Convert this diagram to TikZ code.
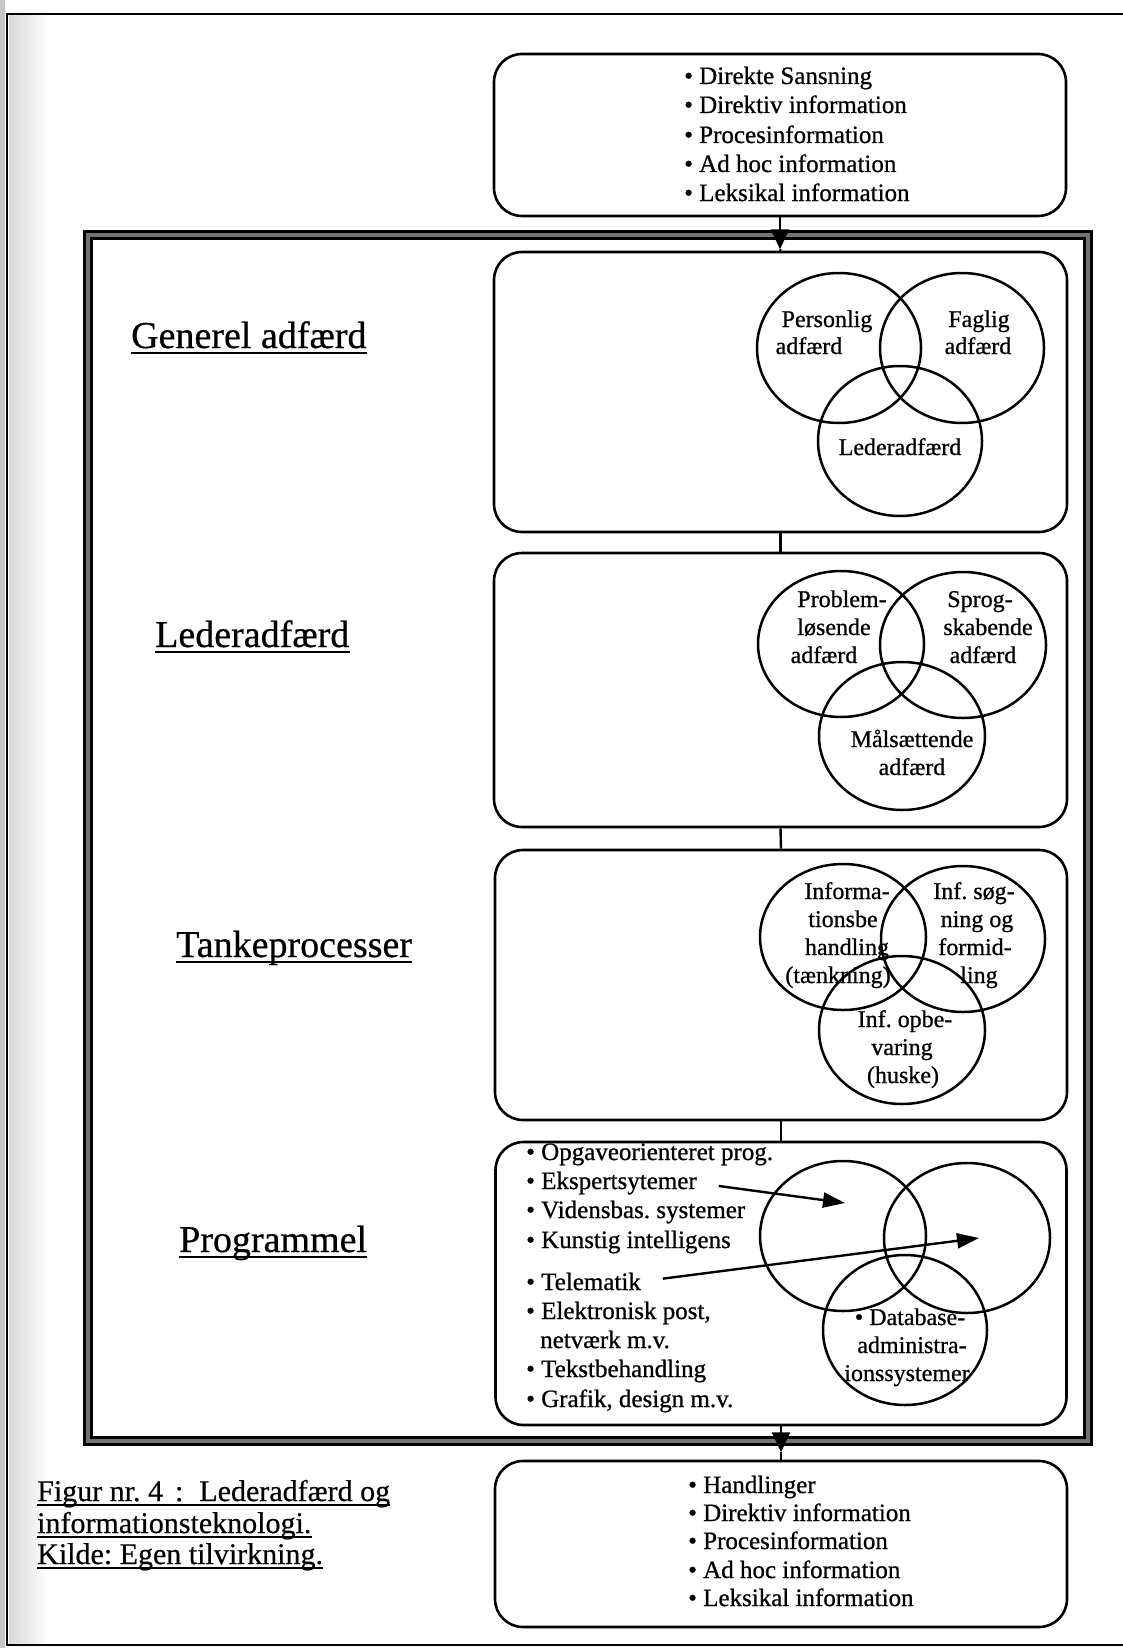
\documentclass[tikz,border=0pt]{standalone}
\usepackage{fontspec}
\setmainfont{Liberation Serif}
\usetikzlibrary{arrows.meta}
\begin{document}
\frenchspacing
\begin{tikzpicture}[x=1pt,y=-1pt,
  box/.style={draw, line width=2.6pt, rounded corners=28pt, inner sep=0pt},
  ring/.style={draw, line width=2.5pt},
  frame/.style={draw=black, line width=2.8pt, double=black!55, double distance=3.5pt},
  link/.style={line width=2.4pt},
  flowarr/.style={line width=2.4pt, -{Triangle[length=20pt,width=18pt]}},
  ptr/.style={line width=2.4pt, -{Triangle[length=22pt,width=15pt]}},
  head/.style={font=\fontsize{38}{40}\selectfont\addfontfeature{FakeBold=0.6}, inner sep=0pt, anchor=base west},
  item/.style={font=\fontsize{25}{29}\selectfont\addfontfeature{FakeBold=0.8}, inner sep=0pt, anchor=base west},
  vtxt/.style={font=\fontsize{24}{28}\selectfont\addfontfeature{FakeBold=0.8}, inner sep=0pt, anchor=base},
  captxt/.style={font=\fontsize{30}{32}\selectfont\addfontfeature{FakeBold=0.5}, inner sep=0pt, anchor=base west},
  uline/.style={line width=1.8pt}
]
\useasboundingbox (0,0) rectangle (1123,1648);

% paper edge and page border
\fill[gray!45] (0,0) rectangle (5,1648);
\shade[left color=gray!30, right color=white] (9,16) rectangle (48,1643);
\draw[line width=2.6pt] (1123,14) -- (7,14) -- (7,1645) -- (1123,1645);

% thick frame around the four layers
\draw[frame] (88,235) rectangle (1088,1441);

% boxes
\node[box, minimum width=572pt, minimum height=162pt] (inbox) at (780,135) {};
\node[box, minimum width=573pt, minimum height=280pt] (b1) at (780.5,392) {};
\node[box, minimum width=573pt, minimum height=274pt] (b2) at (780.5,690) {};
\node[box, minimum width=572pt, minimum height=270pt] (b3) at (781,985) {};
\node[box, minimum width=571pt, minimum height=283pt] (b4) at (781,1283.5) {};
\node[box, minimum width=572pt, minimum height=166pt] (outbox) at (781,1544) {};

% connectors between the boxes
\path (inbox.south) ++(0,32) coordinate (tipin);
\draw[flowarr] (inbox.south) -- (tipin);
\draw[link] (tipin) -- (b1.north);
\draw[link] (b1.south) -- (b2.north);
\draw[link] (b2.south) -- (b3.north);
\draw[link] (b3.south) -- (b4.north);
\path (b4.south) ++(0,26) coordinate (tipout);
\draw[flowarr] (b4.south) -- (tipout);
\draw[link] (tipout) -- (outbox.north);

% input list
\node[item] (i1) at (684,84)  {• Direkte Sansning};
\node[item] (i2) at (684,113) {• Direktiv information};
\node[item] (i3) at (684,143) {• Procesinformation};
\node[item] (i4) at (684,172) {• Ad hoc information};
\node[item] (i5) at (684,201) {• Leksikal information};

% output list
\node[item] (o1) at (688,1493) {• Handlinger};
\node[item] (o2) at (688,1521) {• Direktiv information};
\node[item] (o3) at (688,1549) {• Procesinformation};
\node[item] (o4) at (688,1578) {• Ad hoc information};
\node[item] (o5) at (688,1606) {• Leksikal information};

% layer headings
\node[head] (h1) at (131,348)  {Generel adfærd};
\node[head] (h2) at (155,647)  {Lederadfærd};
\node[head] (h3) at (176,957)  {Tankeprocesser};
\node[head] (h4) at (179,1252) {Programmel};
\foreach \h in {h1,h2,h3,h4}
  \draw[uline] ([yshift=-5pt]\h.base west) -- ([yshift=-5pt]\h.base east);

% layer 1
\draw[ring] (839,348) ellipse [x radius=82pt, y radius=75pt];
\draw[ring] (962,348) ellipse [x radius=82pt, y radius=75pt];
\draw[ring] (900,441) ellipse [x radius=82pt, y radius=75pt];
\node[vtxt] (v1a) at (827,327) {Personlig};
\node[vtxt] (v1b) at (809,354) {adfærd};
\node[vtxt] (v1c) at (979,327) {Faglig};
\node[vtxt] (v1d) at (978,354) {adfærd};
\node[vtxt] (v1e) at (900,455) {Lederadfærd};

% layer 2
\draw[ring] (841,644) ellipse [x radius=83pt, y radius=73pt];
\draw[ring] (963,645) ellipse [x radius=83pt, y radius=73pt];
\draw[ring] (902,736) ellipse [x radius=83pt, y radius=74pt];
\node[vtxt] (v2a) at (842,607) {Problem-};
\node[vtxt] (v2b) at (834,635) {løsende};
\node[vtxt] (v2c) at (824,663) {adfærd};
\node[vtxt] (v2d) at (980,607) {Sprog-};
\node[vtxt] (v2e) at (988,635) {skabende};
\node[vtxt] (v2f) at (983,663) {adfærd};
\node[vtxt] (v2g) at (912,747) {Målsættende};
\node[vtxt] (v2h) at (912,775) {adfærd};

% layer 3
\draw[ring] (843,937) ellipse [x radius=83pt, y radius=73pt];
\draw[ring] (963,939) ellipse [x radius=82pt, y radius=73pt];
\draw[ring] (902,1030) ellipse [x radius=83pt, y radius=74pt];
\node[vtxt] (v3a) at (847,899) {Informa-};
\node[vtxt] (v3b) at (843,927) {tionsbe};
\node[vtxt] (v3c) at (847,955) {handling};
\node[vtxt] (v3d) at (838,983) {(tænkning)};
\node[vtxt] (v3e) at (974,899) {Inf. søg-};
\node[vtxt] (v3f) at (977,927) {ning og};
\node[vtxt] (v3g) at (975,955) {formid-};
\node[vtxt] (v3h) at (979,983) {ling};
\node[vtxt] (v3i) at (905,1027) {Inf. opbe-};
\node[vtxt] (v3j) at (902,1055) {varing};
\node[vtxt] (v3k) at (903,1083) {(huske)};

% layer 4
\draw[ring] (843,1236) ellipse [x radius=83pt, y radius=75pt];
\draw[ring] (967,1238) ellipse [x radius=83pt, y radius=75pt];
\draw[ring] (905,1330) ellipse [x radius=82pt, y radius=75pt];
\node[item] (p1) at (526,1160) {• Opgaveorienteret prog.};
\node[item] (p2) at (526,1189) {• Ekspertsytemer};
\node[item] (p3) at (526,1218) {• Vidensbas. systemer};
\node[item] (p4) at (526,1248) {• Kunstig intelligens};
\node[item] (p5) at (526,1290) {• Telematik};
\node[item] (p6) at (526,1319) {• Elektronisk post,};
\node[item] (p7) at (540,1348) {netværk m.v.};
\node[item] (p8) at (526,1377) {• Tekstbehandling};
\node[item] (p9) at (526,1407) {• Grafik, design m.v.};
\node[vtxt] (d1) at (910,1325) {• Database-};
\node[vtxt] (d2) at (912,1353) {administra-};
\node[vtxt] (d3) at (907,1381) {ionssystemer};
\coordinate (t1) at (845,1203);
\coordinate (t2) at (979,1238);
\draw[ptr, shorten <=22pt] (p2.east) -- (t1);
\draw[ptr, shorten <=22pt] (p5.east) -- (t2);

% caption
\node[captxt] (c1) at (37,1501) {Figur nr. 4\hspace{12pt}:\hspace{16pt}Lederadfærd og};
\node[captxt] (c2) at (37,1533) {informationsteknologi.};
\node[captxt] (c3) at (37,1564) {Kilde: Egen tilvirkning.};
\foreach \c in {c1,c2,c3}
  \draw[line width=1.5pt] ([yshift=-4pt]\c.base west) -- ([yshift=-4pt]\c.base east);
\end{tikzpicture}
\end{document}
